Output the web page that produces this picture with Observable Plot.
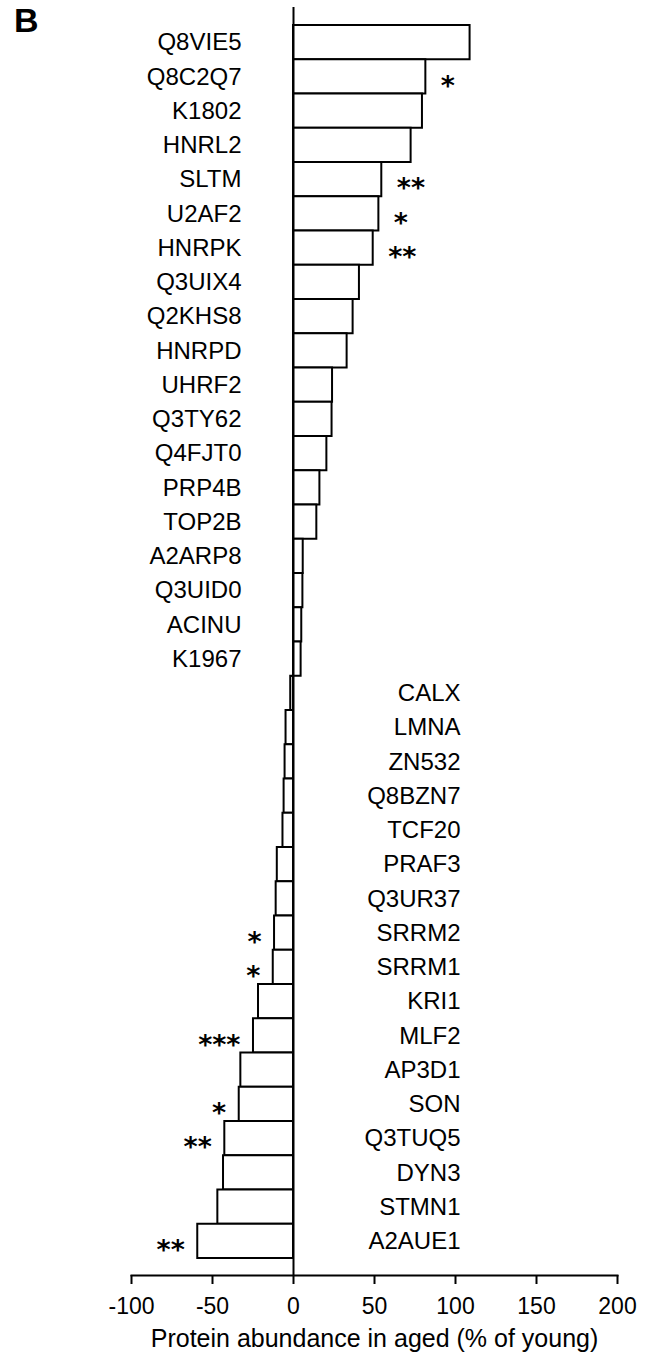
<!DOCTYPE html>
<html>
<head>
<meta charset="utf-8">
<script src="https://cdn.jsdelivr.net/npm/d3@7"></script>
<script src="https://cdn.jsdelivr.net/npm/@observablehq/plot@0.6"></script>
<style>
  body { margin: 0; background: #fff; }
  #wrap { position: relative; width: 646px; height: 1362px; }
  #panel { position: absolute; left: 14px; top: 1px; line-height: 1; font: bold 34px "Liberation Sans", Arial, sans-serif; }
</style>
</head>
<body>
<div id="wrap"><div id="panel">B</div><div id="chart"></div></div>
<script>
const proteins = ["Q8VIE5","Q8C2Q7","K1802","HNRL2","SLTM","U2AF2","HNRPK","Q3UIX4","Q2KHS8","HNRPD","UHRF2","Q3TY62","Q4FJT0","PRP4B","TOP2B","A2ARP8","Q3UID0","ACINU","K1967","CALX","LMNA","ZN532","Q8BZN7","TCF20","PRAF3","Q3UR37","SRRM2","SRRM1","KRI1","MLF2","AP3D1","SON","Q3TUQ5","DYN3","STMN1","A2AUE1"];
const abundance = [109,81.7,79.6,72.6,54.5,52.7,49.2,40.7,36.8,33.1,24.1,23.8,20.6,16.3,14.4,6.0,5.8,5.1,4.7,-1.7,-4.6,-5.2,-5.8,-6.5,-10,-10.7,-11.7,-12.5,-21.6,-24.7,-32.5,-33.5,-42.4,-43.2,-46.7,-59.1];
const significance = ["","*","","","**","*","**","","","","","","","","","","","","","","","","","","","","*","*","","***","","*","**","","","**"];
const xTicks = [-100,-50,0,50,100,150,200];

const data = proteins.map((p, i) => ({protein: p, value: abundance[i], sig: significance[i]}));
const pos = data.filter(d => d.value >= 0);
const neg = data.filter(d => d.value < 0);
const font = "Liberation Sans, Arial, sans-serif";
const starFont = "DejaVu Sans, sans-serif";

const chart = Plot.plot({
  width: 646,
  height: 1362,
  marginTop: 7,
  marginBottom: 87,
  marginLeft: 131,
  marginRight: 29,
  style: {fontFamily: font, fontSize: "23px", color: "#000", background: "#fff"},
  x: {domain: [-100, 200], ticks: xTicks, label: null},
  y: {domain: proteins, range: [25, 1258], padding: 0, round: false, axis: null},
  marks: [
    Plot.barX(data, {y: "protein", x1: 0, x2: "value", fill: "white", stroke: "black", strokeWidth: 2}),
    Plot.ruleX([0], {stroke: "black", strokeWidth: 2}),
    Plot.frame({anchor: "bottom", stroke: "black", strokeWidth: 2}),
    Plot.axisX({ticks: xTicks, tickSize: 9, tickPadding: 13, tickFormat: d => d < 0 ? "-" + Math.abs(d) : String(d), fontSize: 23, strokeWidth: 2, label: null}),
    Plot.text(["Protein abundance in aged (% of young)"], {frameAnchor: "bottom", lineAnchor: "middle", dy: 63, fontSize: 25, fill: "black"}),
    Plot.text(pos, {y: "protein", x: 0, text: "protein", dx: -52, textAnchor: "end", fontSize: 24, fill: "black"}),
    Plot.text(neg, {y: "protein", x: 0, text: "protein", dx: 167, textAnchor: "end", fontSize: 24, fill: "black"}),
    Plot.text(pos.filter(d => d.sig), {y: "protein", x: "value", text: "sig", dx: 15, dy: 9, textAnchor: "start", fontSize: 27, fontWeight: "bold", fontFamily: starFont, fill: "black"}),
    Plot.text(neg.filter(d => d.sig), {y: "protein", x: "value", text: "sig", dx: -13, dy: 9, textAnchor: "end", fontSize: 27, fontWeight: "bold", fontFamily: starFont, fill: "black"})
  ]
});
document.getElementById("chart").appendChild(chart);
</script>
</body>
</html>
